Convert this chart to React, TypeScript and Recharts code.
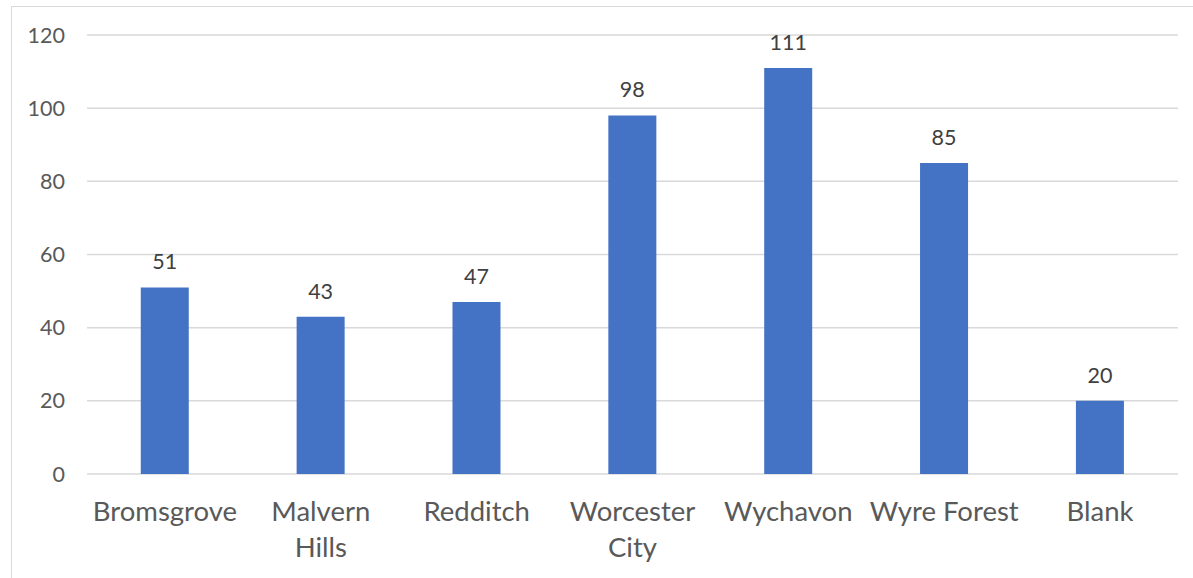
import { BarChart, Bar, XAxis, YAxis, CartesianGrid, LabelList } from "recharts";

// Districts and counts
const DISTRICTS = [
    "Bromsgrove",
    "Malvern Hills",
    "Redditch",
    "Worcester City",
    "Wychavon",
    "Wyre Forest",
    "Blank",
];
const COUNTS = [51, 43, 47, 98, 111, 85, 20];
const Y_TICKS = [0, 20, 40, 60, 80, 100, 120];

const FONT = "Lato, 'Open Sans', sans-serif";
const BAR_BLUE = "#4472C4";
const GRID = "#d9d9d9";
const TEXT = "#595959";

// two-line wrap for the longer names, like the original
const WRAPPED: Record<string, string[]> = {
    "Malvern Hills": ["Malvern", "Hills"],
    "Worcester City": ["Worcester", "City"],
};

function CategoryTick(props: any) {
    const { x, y, payload } = props;
    const lines = WRAPPED[payload.value] ?? [payload.value];
    return (
        <text
            x={x}
            y={y}
            textAnchor="middle"
            fill={TEXT}
            fontSize={27.5}
            fontFamily={FONT}
        >
            {lines.map((line, i) => (
                <tspan key={i} x={x} y={y + 47 + i * 36}>
                    {line}
                </tspan>
            ))}
        </text>
    );
}

export default function App() {
    const data = DISTRICTS.map((name, i) => ({ name, count: COUNTS[i] }));

    return (
        <div
            style={{
                position: "fixed",
                left: 0,
                top: 0,
                width: 1193,
                height: 578,
                overflow: "hidden",
                background: "#fff",
            }}
        >
            <div
                style={{
                    position: "absolute",
                    left: 11,
                    top: 6,
                    width: 1200,
                    height: 600,
                    border: `1px solid ${GRID}`,
                }}
            />
            <div style={{ position: "absolute", left: 0, top: 0 }}>
                <BarChart
                    width={1193}
                    height={578}
                    data={data}
                    margin={{ top: 35, right: 15, bottom: 0, left: 27 }}
                    barCategoryGap="34.5%"
                >
                    <CartesianGrid
                        vertical={false}
                        stroke={GRID}
                        strokeWidth={1.5}
                    />
                    <XAxis
                        dataKey="name"
                        axisLine={false}
                        tickLine={false}
                        tickSize={0}
                        tickMargin={0}
                        interval={0}
                        height={104}
                        tick={<CategoryTick />}
                    />
                    <YAxis
                        width={60}
                        domain={[0, 120]}
                        ticks={Y_TICKS}
                        axisLine={false}
                        tickLine={false}
                        tickSize={0}
                        tickMargin={22}
                        tick={{ fill: TEXT, fontSize: 21.5, fontFamily: FONT }}
                    />
                    <Bar dataKey="count" fill={BAR_BLUE} isAnimationActive={false}>
                        <LabelList
                            dataKey="count"
                            position="top"
                            offset={18}
                            fill="#404040"
                            fontSize={21.5}
                            fontFamily={FONT}
                        />
                    </Bar>
                </BarChart>
            </div>
        </div>
    );
}
